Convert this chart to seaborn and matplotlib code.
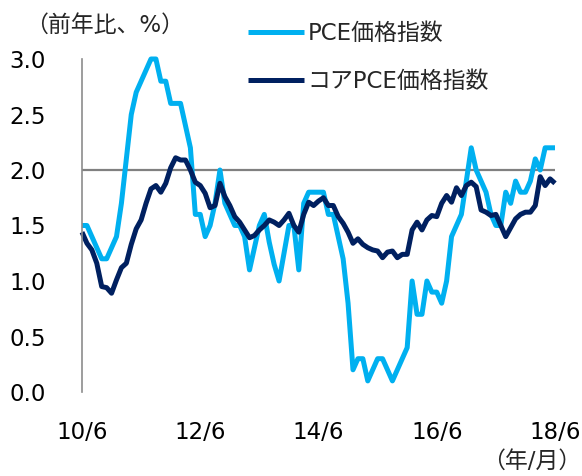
import matplotlib
matplotlib.use("Agg")
import matplotlib.pyplot as plt
import seaborn as sns
import pandas as pd
import numpy as np

# 2010/6 - 2018/6, monthly, YoY %
series_names = ["PCE価格指数", "コアPCE価格指数"]
pce = [1.5, 1.5, 1.4, 1.3, 1.2, 1.2, 1.3, 1.4, 1.7, 2.1,
       2.5, 2.7, 2.8, 2.9, 3.0, 3.0, 2.8, 2.8, 2.6, 2.6,
       2.6, 2.4, 2.2, 1.6, 1.6, 1.4, 1.5, 1.7, 2.0, 1.7,
       1.6, 1.5, 1.5, 1.4, 1.1, 1.3, 1.5, 1.6, 1.35, 1.15,
       1.0, 1.25, 1.5, 1.5, 1.1, 1.7, 1.8, 1.8, 1.8, 1.8,
       1.6, 1.6, 1.4, 1.2, 0.8, 0.2, 0.3, 0.3, 0.1, 0.2,
       0.3, 0.3, 0.2, 0.1, 0.2, 0.3, 0.4, 1.0, 0.7, 0.7,
       1.0, 0.9, 0.9, 0.8, 1.0, 1.4, 1.5, 1.6, 1.9, 2.2,
       2.0, 1.9, 1.8, 1.6, 1.5, 1.5, 1.8, 1.7, 1.9, 1.8,
       1.8, 1.9, 2.1, 2.0, 2.2, 2.2, 2.2]
core = [1.44, 1.34, 1.28, 1.16, 0.95, 0.94, 0.89, 1.01, 1.12, 1.16,
        1.33, 1.47, 1.55, 1.70, 1.83, 1.86, 1.80, 1.88, 2.02, 2.11,
        2.09, 2.09, 2.00, 1.89, 1.86, 1.79, 1.66, 1.68, 1.88, 1.76,
        1.68, 1.58, 1.53, 1.46, 1.39, 1.41, 1.46, 1.50, 1.55, 1.53,
        1.50, 1.55, 1.61, 1.50, 1.44, 1.60, 1.71, 1.68, 1.72, 1.75,
        1.68, 1.68, 1.58, 1.52, 1.44, 1.34, 1.38, 1.33, 1.30, 1.28,
        1.27, 1.21, 1.26, 1.27, 1.21, 1.24, 1.24, 1.46, 1.53, 1.46,
        1.55, 1.59, 1.58, 1.70, 1.77, 1.71, 1.84, 1.77, 1.86, 1.89,
        1.85, 1.64, 1.62, 1.59, 1.60, 1.50, 1.40, 1.48, 1.56, 1.60,
        1.62, 1.62, 1.68, 1.94, 1.86, 1.92, 1.88]
tick_labels = ["10/6", "12/6", "14/6", "16/6", "18/6"]
y_ticks = [0.0, 0.5, 1.0, 1.5, 2.0, 2.5, 3.0]

colors = ["#00B0F0", "#002060"]

sns.set_style("white")
plt.rcParams["font.family"] = ["DejaVu Sans", "Noto Sans CJK JP"]

n = len(pce)
df = pd.DataFrame({
    "idx": list(range(n)) * 2,
    "value": pce + core,
    "series": [series_names[0]] * n + [series_names[1]] * n,
})

fig = plt.figure(figsize=(5.82, 4.76), dpi=100)
ax = fig.add_axes([82 / 582, 1 - 392 / 476, (555 - 82) / 582, (392 - 59) / 476])

# 2% reference line
ax.axhline(2.0, color="#808080", lw=1.6, zorder=1)

sns.lineplot(data=df, x="idx", y="value", hue="series", hue_order=series_names,
             palette=colors, linewidth=3.6, ax=ax, zorder=2)
for ln in ax.lines[1:]:
    ln.set_clip_on(False)
    ln.set_solid_joinstyle("round")
    ln.set_solid_capstyle("butt")

handles, labels = ax.get_legend_handles_labels()
ax.get_legend().remove()
fig.legend(handles, labels, loc="upper left", bbox_to_anchor=(248 / 582, 1 - 22 / 476),
           frameon=False, fontsize=16.5, handlelength=2.45, handletextpad=0.15,
           labelspacing=1.1, borderpad=0, borderaxespad=0)

ax.set_xlim(0, n - 1)
ax.set_ylim(0, 3.0)
ax.set_yticks(y_ticks)
ax.set_yticklabels([f"{v:.1f}" for v in y_ticks])
ax.set_xticks(np.arange(0, n, 24))
ax.set_xticklabels(tick_labels)
ax.set_xlabel("")
ax.set_ylabel("")

for s in ["top", "right", "bottom"]:
    ax.spines[s].set_visible(False)
ax.spines["left"].set_color("#8c8c8c")
ax.spines["left"].set_linewidth(1.2)

ax.tick_params(axis="y", direction="in", length=5.5, width=1.2, color="#8c8c8c",
               labelsize=16.5, pad=26, labelcolor="black")
ax.tick_params(axis="x", length=0, labelsize=16.5, pad=21, labelcolor="black")

fig.text(25 / 582, 1 - 25 / 476, "（前年比、%）", fontsize=16.5, va="center", ha="left")
fig.text(0.998, 1 - 461 / 476, "（年/月）", fontsize=16.5, va="center", ha="right")

fig.savefig("out.png", dpi=100)
